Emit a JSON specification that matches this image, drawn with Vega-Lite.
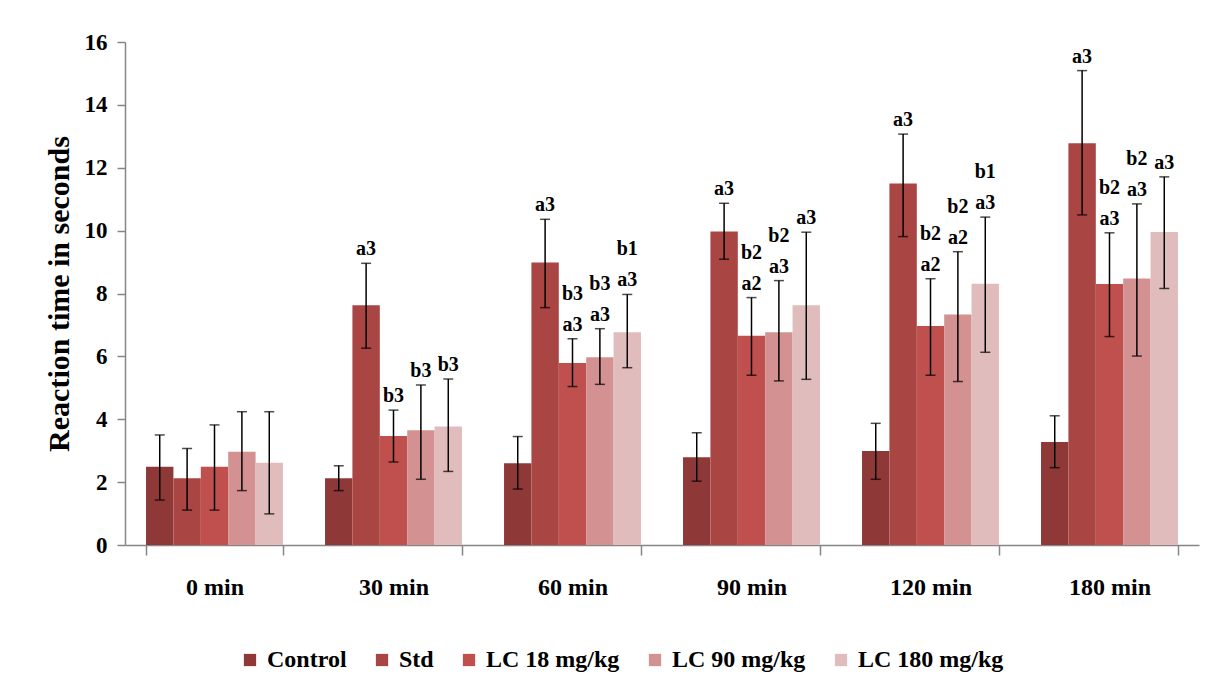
{
  "$schema": "https://vega.github.io/schema/vega-lite/v6.json",
  "autosize": {"type": "none"},
  "width": 1074,
  "height": 503,
  "padding": {"left": 125, "top": 42, "right": 12, "bottom": 148},
  "background": "white",
  "config": {
    "view": {"stroke": null},
    "font": "'Liberation Serif', 'DejaVu Serif', serif",
    "axis": {
      "labelFont": "'Liberation Serif', 'DejaVu Serif', serif",
      "labelFontWeight": "bold",
      "labelColor": "black",
      "titleFont": "'Liberation Serif', 'DejaVu Serif', serif",
      "titleFontWeight": "bold",
      "titleColor": "black",
      "domainColor": "#868686",
      "domainWidth": 1.5,
      "tickColor": "#868686",
      "tickWidth": 1.5,
      "grid": false
    }
  },
  "data": {
    "values": [
      {"time": "0 min", "group": "Control", "mean": 2.49, "lo": 1.43, "hi": 3.50, "lab1": "", "lab2": ""},
      {"time": "0 min", "group": "Std", "mean": 2.12, "lo": 1.11, "hi": 3.07, "lab1": "", "lab2": ""},
      {"time": "0 min", "group": "LC 18 mg/kg", "mean": 2.49, "lo": 1.11, "hi": 3.82, "lab1": "", "lab2": ""},
      {"time": "0 min", "group": "LC 90 mg/kg", "mean": 2.97, "lo": 1.73, "hi": 4.24, "lab1": "", "lab2": ""},
      {"time": "0 min", "group": "LC 180 mg/kg", "mean": 2.62, "lo": 0.99, "hi": 4.24, "lab1": "", "lab2": ""},
      {"time": "30 min", "group": "Control", "mean": 2.12, "lo": 1.73, "hi": 2.52, "lab1": "", "lab2": ""},
      {"time": "30 min", "group": "Std", "mean": 7.63, "lo": 6.26, "hi": 8.96, "lab1": "a3", "lab2": ""},
      {"time": "30 min", "group": "LC 18 mg/kg", "mean": 3.47, "lo": 2.64, "hi": 4.29, "lab1": "b3", "lab2": ""},
      {"time": "30 min", "group": "LC 90 mg/kg", "mean": 3.65, "lo": 2.09, "hi": 5.09, "lab1": "b3", "lab2": ""},
      {"time": "30 min", "group": "LC 180 mg/kg", "mean": 3.77, "lo": 2.34, "hi": 5.28, "lab1": "b3", "lab2": ""},
      {"time": "60 min", "group": "Control", "mean": 2.60, "lo": 1.78, "hi": 3.45, "lab1": "", "lab2": ""},
      {"time": "60 min", "group": "Std", "mean": 8.99, "lo": 7.55, "hi": 10.36, "lab1": "a3", "lab2": ""},
      {"time": "60 min", "group": "LC 18 mg/kg", "mean": 5.79, "lo": 5.04, "hi": 6.56, "lab1": "a3", "lab2": "b3"},
      {"time": "60 min", "group": "LC 90 mg/kg", "mean": 5.97, "lo": 5.11, "hi": 6.88, "lab1": "a3", "lab2": "b3"},
      {"time": "60 min", "group": "LC 180 mg/kg", "mean": 6.77, "lo": 5.64, "hi": 7.97, "lab1": "a3", "lab2": "b1"},
      {"time": "90 min", "group": "Control", "mean": 2.79, "lo": 2.03, "hi": 3.57, "lab1": "", "lab2": ""},
      {"time": "90 min", "group": "Std", "mean": 9.97, "lo": 9.09, "hi": 10.87, "lab1": "a3", "lab2": ""},
      {"time": "90 min", "group": "LC 18 mg/kg", "mean": 6.66, "lo": 5.40, "hi": 7.87, "lab1": "a2", "lab2": "b2"},
      {"time": "90 min", "group": "LC 90 mg/kg", "mean": 6.77, "lo": 5.22, "hi": 8.41, "lab1": "a3", "lab2": "b2"},
      {"time": "90 min", "group": "LC 180 mg/kg", "mean": 7.63, "lo": 5.27, "hi": 9.95, "lab1": "a3", "lab2": ""},
      {"time": "120 min", "group": "Control", "mean": 2.99, "lo": 2.09, "hi": 3.87, "lab1": "", "lab2": ""},
      {"time": "120 min", "group": "Std", "mean": 11.50, "lo": 9.81, "hi": 13.07, "lab1": "a3", "lab2": ""},
      {"time": "120 min", "group": "LC 18 mg/kg", "mean": 6.97, "lo": 5.40, "hi": 8.47, "lab1": "a2", "lab2": "b2"},
      {"time": "120 min", "group": "LC 90 mg/kg", "mean": 7.33, "lo": 5.20, "hi": 9.33, "lab1": "a2", "lab2": "b2"},
      {"time": "120 min", "group": "LC 180 mg/kg", "mean": 8.31, "lo": 6.13, "hi": 10.43, "lab1": "a3", "lab2": "b1"},
      {"time": "180 min", "group": "Control", "mean": 3.28, "lo": 2.46, "hi": 4.11, "lab1": "", "lab2": ""},
      {"time": "180 min", "group": "Std", "mean": 12.78, "lo": 10.50, "hi": 15.09, "lab1": "a3", "lab2": ""},
      {"time": "180 min", "group": "LC 18 mg/kg", "mean": 8.30, "lo": 6.63, "hi": 9.93, "lab1": "a3", "lab2": "b2"},
      {"time": "180 min", "group": "LC 90 mg/kg", "mean": 8.48, "lo": 6.01, "hi": 10.85, "lab1": "a3", "lab2": "b2"},
      {"time": "180 min", "group": "LC 180 mg/kg", "mean": 9.96, "lo": 8.16, "hi": 11.71, "lab1": "a3", "lab2": ""}
    ]
  },
  "encoding": {
    "x": {
      "field": "time",
      "type": "nominal",
      "sort": ["0 min", "30 min", "60 min", "90 min", "120 min", "180 min"],
      "scale": {"paddingInner": 0.235, "paddingOuter": 0.1175},
      "axis": {
        "title": null,
        "labelAngle": 0,
        "labelFontSize": 24,
        "labelPadding": 20,
        "tickBand": "extent",
        "tickSize": 10
      }
    },
    "xOffset": {
      "field": "group",
      "type": "nominal",
      "sort": ["Control", "Std", "LC 18 mg/kg", "LC 90 mg/kg", "LC 180 mg/kg"],
      "scale": {"paddingInner": 0, "paddingOuter": 0}
    }
  },
  "layer": [
    {
      "mark": {"type": "bar"},
      "encoding": {
        "y": {
          "field": "mean",
          "type": "quantitative",
          "scale": {"domain": [0, 16], "nice": false},
          "axis": {
            "title": "Reaction time in seconds",
            "titleFontSize": 30,
            "titlePadding": 10,
            "values": [0, 2, 4, 6, 8, 10, 12, 14, 16],
            "labelFontSize": 23,
            "labelPadding": 10,
            "tickSize": 8
          }
        },
        "color": {
          "field": "group",
          "type": "nominal",
          "sort": ["Control", "Std", "LC 18 mg/kg", "LC 90 mg/kg", "LC 180 mg/kg"],
          "scale": {
            "domain": ["Control", "Std", "LC 18 mg/kg", "LC 90 mg/kg", "LC 180 mg/kg"],
            "range": ["#8E3938", "#A94644", "#C0504D", "#D39291", "#E1BCBC"]
          },
          "legend": {
            "title": null,
            "orient": "none",
            "direction": "horizontal",
            "legendX": 113,
            "legendY": 606,
            "padding": 0,
            "symbolType": "square",
            "symbolSize": 150,
            "symbolStrokeWidth": 0,
            "symbolOpacity": 1,
            "labelFont": "'Liberation Serif', 'DejaVu Serif', serif",
            "labelFontWeight": "bold",
            "labelFontSize": 24,
            "labelColor": "black",
            "labelOffset": 5,
            "columnPadding": 23,
            "labelLimit": 300
          }
        }
      }
    },
    {
      "mark": {"type": "rule", "color": "black", "strokeWidth": 1.5},
      "encoding": {
        "y": {"field": "lo", "type": "quantitative"},
        "y2": {"field": "hi"}
      }
    },
    {
      "mark": {"type": "tick", "color": "black", "thickness": 1.5, "size": 10, "orient": "horizontal"},
      "encoding": {
        "y": {"field": "lo", "type": "quantitative"}
      }
    },
    {
      "mark": {"type": "tick", "color": "black", "thickness": 1.5, "size": 10, "orient": "horizontal"},
      "encoding": {
        "y": {"field": "hi", "type": "quantitative"}
      }
    },
    {
      "mark": {
        "type": "text",
        "font": "'Liberation Serif', 'DejaVu Serif', serif",
        "fontWeight": "bold",
        "fontSize": 20,
        "color": "black",
        "baseline": "alphabetic",
        "align": "center",
        "dy": -8
      },
      "encoding": {
        "y": {"field": "hi", "type": "quantitative"},
        "text": {"field": "lab1"}
      }
    },
    {
      "mark": {
        "type": "text",
        "font": "'Liberation Serif', 'DejaVu Serif', serif",
        "fontWeight": "bold",
        "fontSize": 20,
        "color": "black",
        "baseline": "alphabetic",
        "align": "center",
        "dy": -39
      },
      "encoding": {
        "y": {"field": "hi", "type": "quantitative"},
        "text": {"field": "lab2"}
      }
    }
  ]
}
